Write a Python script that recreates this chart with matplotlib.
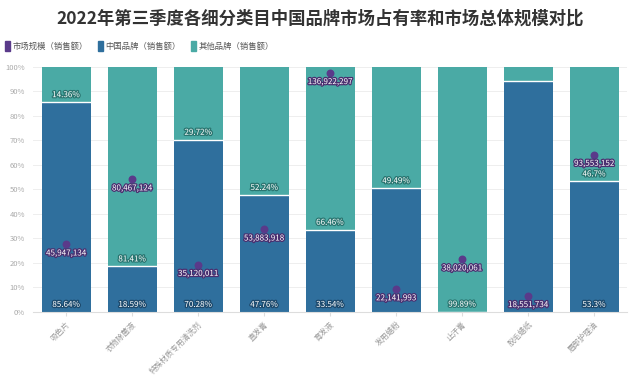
import matplotlib

matplotlib.use("Agg")
import matplotlib.pyplot as plt
import matplotlib.patheffects as pe
from matplotlib.patches import Patch
from matplotlib.ticker import FuncFormatter

plt.rcParams["font.family"] = ["Noto Sans CJK SC", "DejaVu Sans"]

categories = ["吸色片", "衣物除菌液", "特殊材质专用清洗剂", "直发膏", "育发液",
              "发用蜡粉", "止汗膏", "脱毛蜡纸", "眉部护理油"]
china_share = [85.64, 18.59, 70.28, 47.76, 33.54, 50.51, 0.11, 94.4, 53.3]
other_share = [14.36, 81.41, 29.72, 52.24, 66.46, 49.49, 99.89, 5.6, 46.7]
market_size = [45947134, 80467124, 35120011, 53883918, 136922297,
               22141993, 38020061, 18551734, 93553152]
# labels the original chart hides because they collide
show_china_label = [True, True, True, True, True, False, False, False, True]
show_other_label = [True, True, True, True, True, True, True, False, True]

C_CHINA = "#2f6f9d"
C_OTHER = "#4aaaa5"
C_MARKET = "#5a3a8a"

fig = plt.figure(figsize=(6.4, 3.78), dpi=100)
ax = fig.add_axes([0.052, 0.175, 0.928, 0.648])

x = list(range(len(categories)))
ax.bar(x, china_share, width=0.74, color=C_CHINA, zorder=2)
ax.bar(x, other_share, width=0.74, bottom=china_share, color=C_OTHER, zorder=2)
# white separator line at the top of the china segment
for i, v in enumerate(china_share):
    ax.plot([i - 0.37, i + 0.37], [v, v], color="white", lw=1.0, zorder=3)

stroke_blue = [pe.withStroke(linewidth=1.8, foreground="#1d4a6d")]
stroke_teal = [pe.withStroke(linewidth=1.8, foreground="#2a7671")]
for i in x:
    if show_china_label[i]:
        ax.text(i, 1.2, f"{china_share[i]:g}%", ha="center", va="bottom",
                fontsize=5.8, color="white", path_effects=stroke_blue, zorder=5)
    if show_other_label[i]:
        ax.text(i, china_share[i] + 1.2, f"{other_share[i]:g}%", ha="center",
                va="bottom", fontsize=5.8, color="white",
                path_effects=stroke_teal, zorder=5)

ax.set_xlim(-0.5, len(categories) - 0.5)
ax.set_ylim(0, 100)
ax.set_yticks(range(0, 101, 10))
ax.yaxis.set_major_formatter(FuncFormatter(lambda v, p: f"{v:.0f}%"))
ax.grid(axis="y", color="#eeeeee", lw=0.7, zorder=0)
ax.set_xticks(x)
ax.set_xticklabels(categories, rotation=45, ha="right", rotation_mode="anchor",
                   fontsize=5.6, color="#999999")
ax.tick_params(axis="y", labelsize=5.5, labelcolor="#aaaaaa", length=0, pad=6)
ax.tick_params(axis="x", length=3, color="#dddddd", pad=3)
for s in ["top", "right", "left"]:
    ax.spines[s].set_visible(False)
ax.spines["bottom"].set_color("#dddddd")

ax2 = ax.twinx()
ax2.set_ylim(10.09e6, 140.1e6)
ax2.scatter(x, market_size, s=22, color=C_MARKET, zorder=6)
stroke_purple = [pe.withStroke(linewidth=1.8, foreground="#4a2f70")]
for i, v in enumerate(market_size):
    ax2.annotate(f"{v:,}", (i, v), xytext=(0, -3), textcoords="offset points",
                 ha="center", va="top", fontsize=5.8, color="white",
                 path_effects=stroke_purple, zorder=7)
ax2.axis("off")

fig.text(0.5, 0.952, "2022年第三季度各细分类目中国品牌市场占有率和市场总体规模对比",
         ha="center", va="center", fontsize=12.5, fontweight="bold", color="#333333")

handles = [Patch(color=C_MARKET), Patch(color=C_CHINA), Patch(color=C_OTHER)]
labels = ["市场规模（销售额）", "中国品牌（销售额）", "其他品牌（销售额）"]
fig.legend(handles, labels, loc="center left", bbox_to_anchor=(0.0, 0.878),
           ncol=3, frameon=False, fontsize=6, labelcolor="#555555",
           handlelength=0.6, handleheight=1.3, handletextpad=0.3,
           columnspacing=1.2, borderaxespad=0.2)

fig.savefig("out.png", dpi=100)
